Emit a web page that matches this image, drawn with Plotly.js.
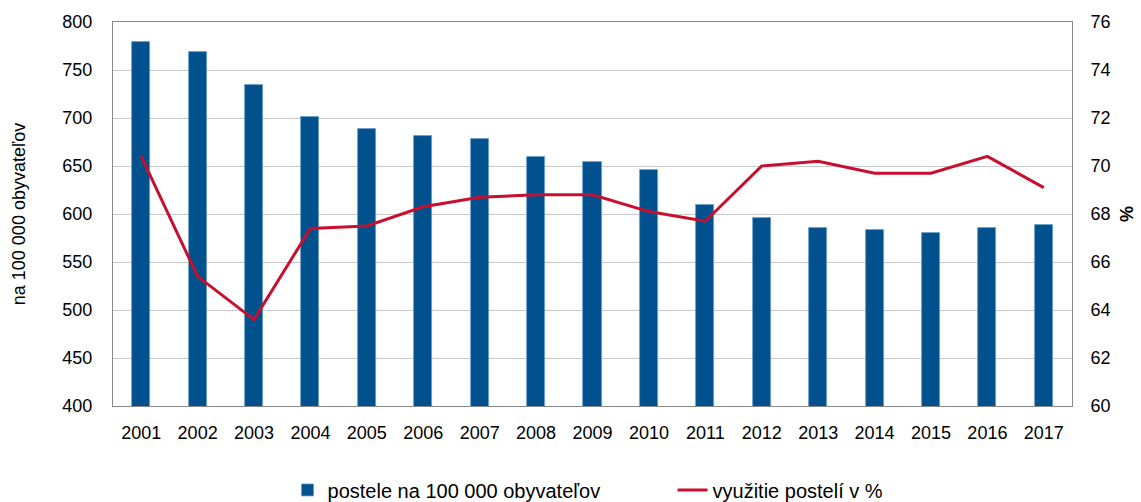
<!DOCTYPE html>
<html><head><meta charset="utf-8">
<script src="https://cdn.plot.ly/plotly-3.0.1.min.js"></script>
<style>body{margin:0;background:#fff}#c{width:1141px;height:502px}</style>
</head><body><div id="c"></div>
<script>
const years = ['2001','2002','2003','2004','2005','2006','2007','2008','2009','2010','2011','2012','2013','2014','2015','2016','2017'];
const beds = [779,769,734,701,689,681,678,659,654,646,609,596,585,583,580,585,589];
const occupancy = [70.4,65.4,63.6,67.4,67.5,68.3,68.7,68.8,68.8,68.1,67.7,70.0,70.2,69.7,69.7,70.4,69.1];
const leftTicks = [400,450,500,550,600,650,700,750,800];
const rightTicks = [60,62,64,66,68,70,72,74,76];

const font = {family:'Liberation Sans, Arial, sans-serif', size:18, color:'#000'};
const legFont = {family:'Liberation Sans, Arial, sans-serif', size:20, color:'#000'};
Plotly.newPlot('c', [
  {type:'bar', x:years, y:beds, name:'postele na 100 000 obyvateľov',
   marker:{color:'#00518E', line:{color:'#6a9cc8', width:0.8}}, width:0.32},
  {type:'scatter', mode:'lines', x:years, y:occupancy, yaxis:'y2', name:'využitie postelí v %',
   line:{color:'#C8102E', width:3}}
], {
  width:1141, height:502, font:font,
  margin:{l:113, r:69, t:22, b:96},
  paper_bgcolor:'#fff', plot_bgcolor:'#fff',
  showlegend:true,
  legend:{orientation:'h', x:0.252, xanchor:'left', xref:'container', yref:'container', y:0.024, yanchor:'middle',
          font:legFont, itemwidth:30, tracegroupgap:0, entrywidth:340, entrywidthmode:'pixels'},
  bargap:0,
  xaxis:{type:'category', showline:true, linecolor:'#888', mirror:true, ticks:'', tickfont:font, showgrid:false,
         ticklabelstandoff:10},
  yaxis:{range:[400,800], tickvals:leftTicks, showgrid:true, gridcolor:'#c8c8c8', showline:true, linecolor:'#888',
         ticks:'', tickfont:font, zeroline:false, ticklabelstandoff:16,
         title:{text:'na 100 000 obyvateľov', font:font, standoff:32}},
  yaxis2:{range:[60,76], tickvals:rightTicks, overlaying:'y', side:'right', showgrid:false, showline:true, linecolor:'#888',
          ticks:'', tickfont:font, zeroline:false, ticklabelstandoff:14,
          title:{text:'<b>%</b>', font:font, standoff:10}}
}, {displayModeBar:false});
</script></body></html>
